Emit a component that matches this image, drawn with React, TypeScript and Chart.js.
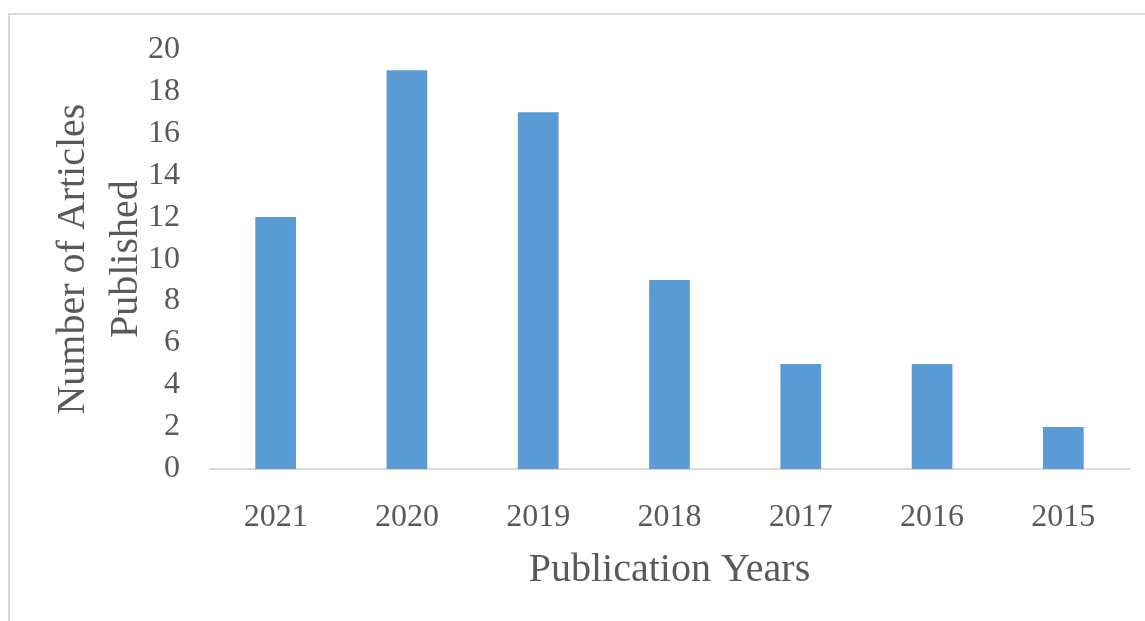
import React, { useEffect, useRef } from "react";
import { Chart, registerables } from "chart.js";

Chart.register(...registerables);

const categories = ["2021", "2020", "2019", "2018", "2017", "2016", "2015"];
const articles = [12, 19, 17, 9, 5, 5, 2];
const yTitle = ["Number of Articles", "Published"];
const xTitle = "Publication Years";

const FONT = "'Liberation Serif', 'DejaVu Serif', serif";
const TEXT = "#595959";
const LINE = "#d9d9d9";

const framePlugin = {
  id: "frame",
  beforeDraw(chart: any) {
    const ctx = chart.ctx;
    ctx.save();
    ctx.fillStyle = "#ffffff";
    ctx.fillRect(0, 0, chart.width, chart.height);
    ctx.strokeStyle = LINE;
    ctx.lineWidth = 2;
    ctx.beginPath();
    ctx.moveTo(9, chart.height);
    ctx.lineTo(9, 14);
    ctx.lineTo(chart.width, 14);
    ctx.stroke();
    ctx.restore();
  },
};

export default function App() {
  const ref = useRef<HTMLCanvasElement | null>(null);
  useEffect(() => {
    if (!ref.current) return;
    const chart = new Chart(ref.current, {
      type: "bar",
      data: {
        labels: categories,
        datasets: [
          {
            data: articles,
            backgroundColor: "#5b9bd5",
            borderWidth: 0,
            barPercentage: 1,
            categoryPercentage: 0.31,
          },
        ],
      },
      options: {
        animation: false,
        responsive: false,
        layout: { padding: { top: 46, right: 16, left: 0, bottom: 0 } },
        plugins: { legend: { display: false }, tooltip: { enabled: false } },
        scales: {
          x: {
            grid: { display: true, drawOnChartArea: false, drawTicks: false },
            border: { display: true, color: LINE, width: 2 },
            ticks: { color: TEXT, font: { family: FONT, size: 32 }, padding: 29 },
            title: {
              display: true,
              text: xTitle,
              color: TEXT,
              font: { family: FONT, size: 40, lineHeight: 1.2 },
              padding: { top: 0, bottom: 27 },
            },
            afterFit(scale: any) {
              scale.height = 152;
            },
          },
          y: {
            min: 0,
            max: 20,
            ticks: { stepSize: 2, color: TEXT, font: { family: FONT, size: 32 }, padding: 30 },
            grid: { display: false, drawTicks: false },
            border: { display: false },
            title: {
              display: true,
              text: yTitle,
              color: TEXT,
              font: { family: FONT, size: 40, lineHeight: 1.325 },
              padding: { top: 47, bottom: 0 },
            },
            afterFit(scale: any) {
              scale.width = 210;
            },
          },
        },
      },
      plugins: [framePlugin],
    });
    return () => chart.destroy();
  }, []);
  return (
    <div style={{ position: "fixed", left: 0, top: 0, width: 1145, height: 621 }}>
      <canvas ref={ref} width={1145} height={621} style={{ display: "block" }} />
    </div>
  );
}
